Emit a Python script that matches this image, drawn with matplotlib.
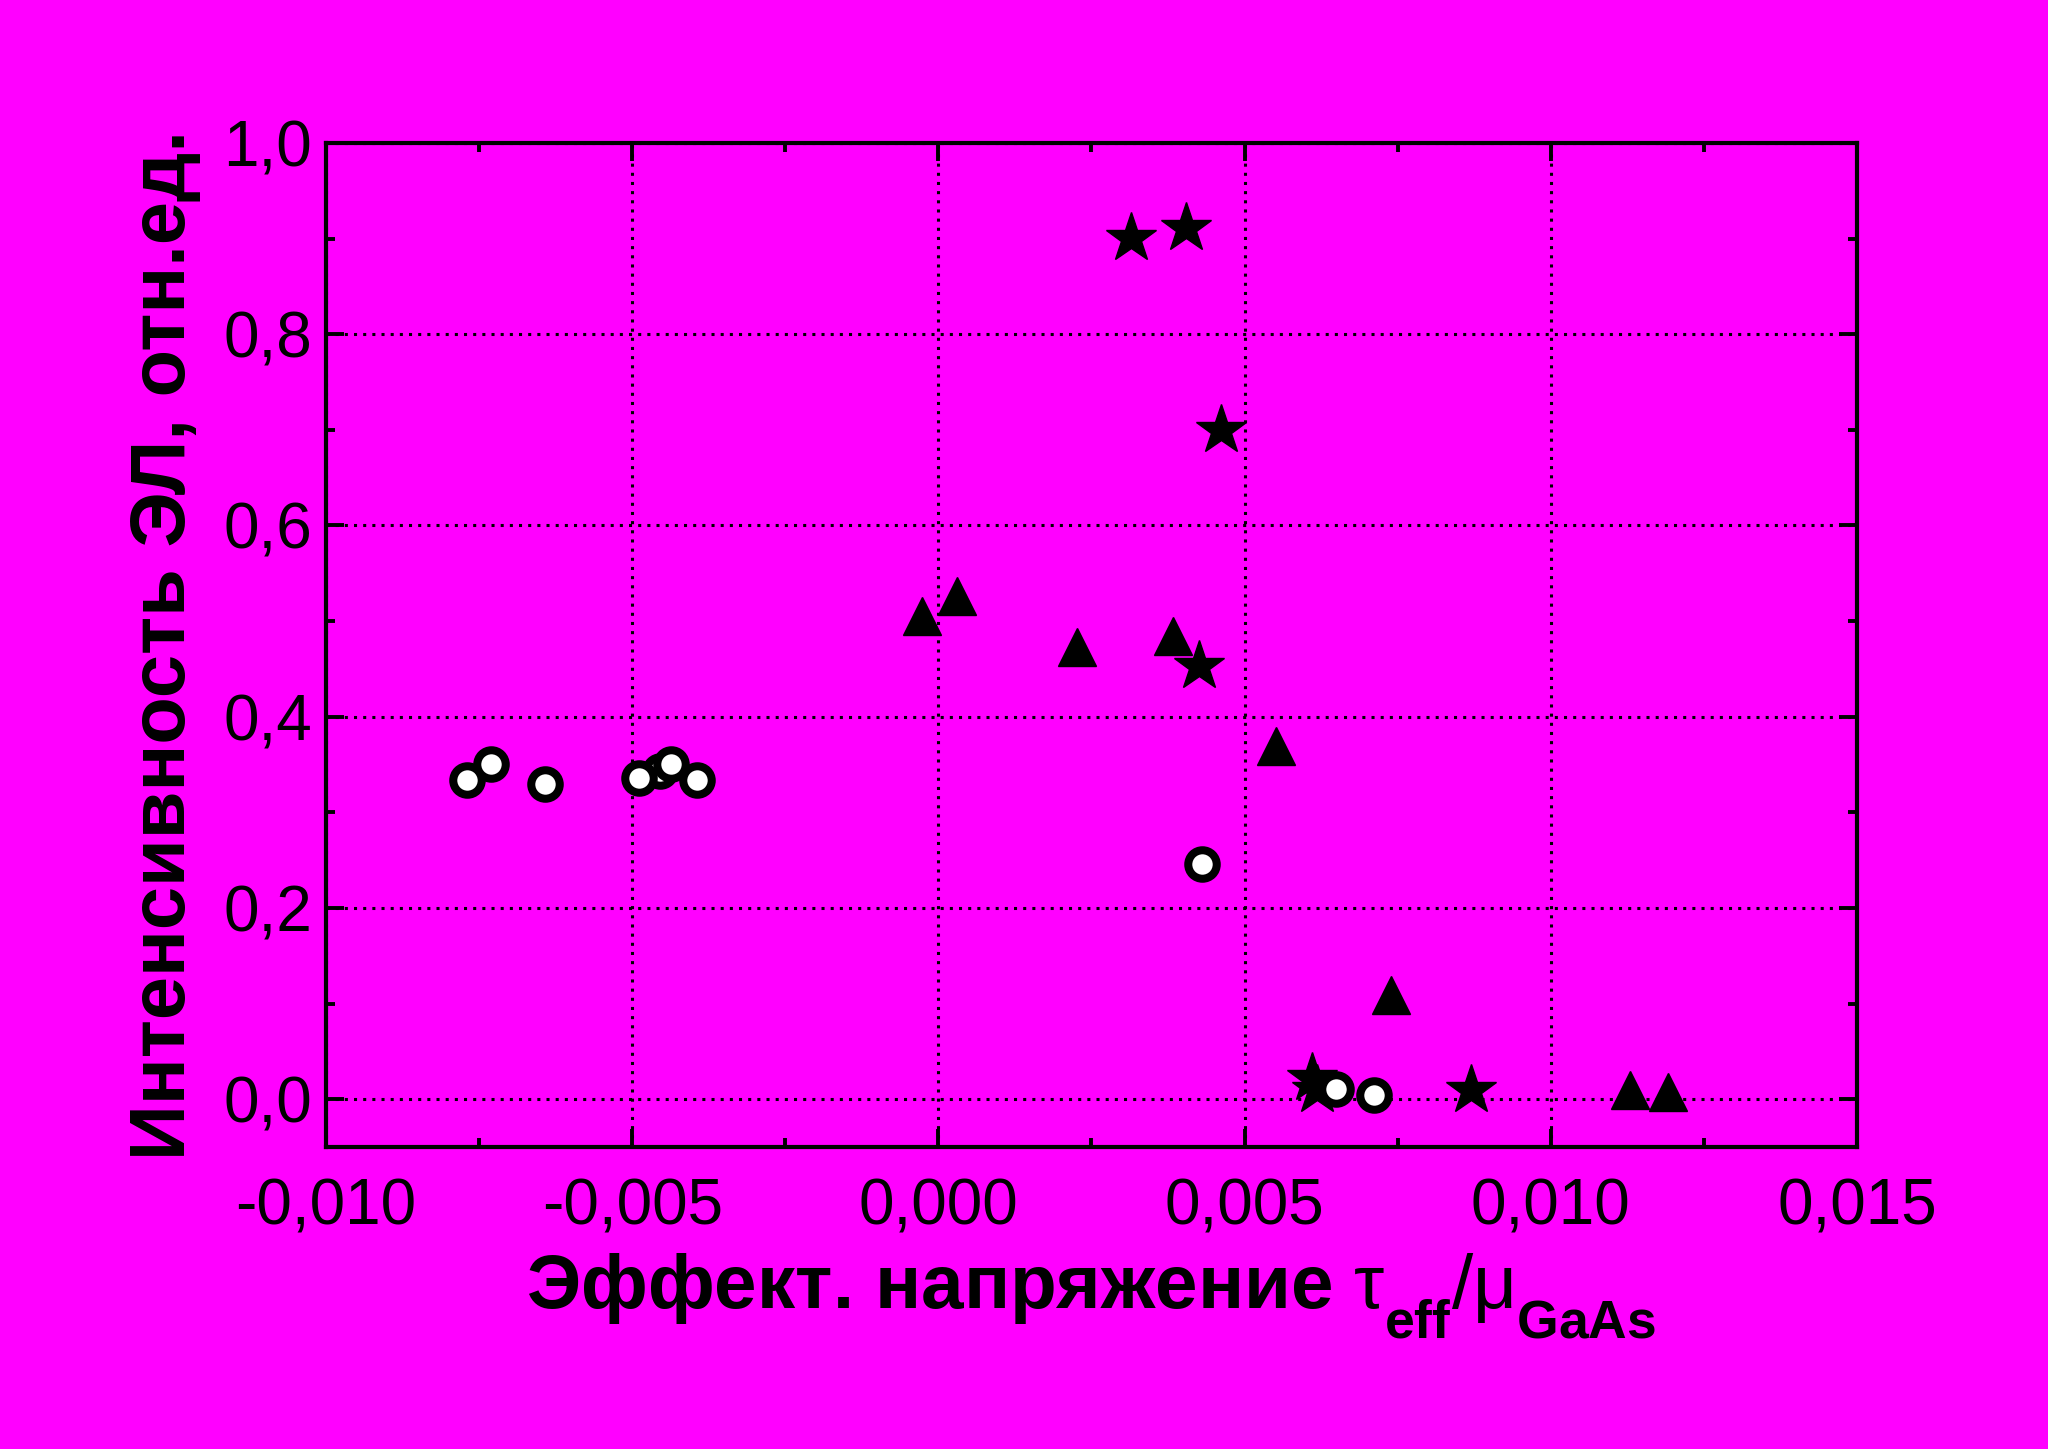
"""
Scatter plot: EL intensity vs effective stress (three sample groups).
"""

import matplotlib
matplotlib.use("Agg")
import matplotlib.pyplot as plt
from matplotlib.ticker import MultipleLocator, FuncFormatter

# Data
tri_x = [-0.00026, 0.00031, 0.00227, 0.00383, 0.00552, 0.00739, 0.01130, 0.01192]
tri_y = [0.505, 0.526, 0.473, 0.484, 0.369, 0.109, 0.010, 0.008]

star_x = [0.00314, 0.00404, 0.00461, 0.00426, 0.00610, 0.00618, 0.00870]
star_y = [0.901, 0.911, 0.700, 0.453, 0.022, 0.010, 0.010]

circ_x = [-0.00455, -0.00770, -0.00731, -0.00642, -0.00489, -0.00436, -0.00395,
          0.00430, 0.00649, 0.00711]
circ_y = [0.343, 0.334, 0.351, 0.330, 0.336, 0.351, 0.334,
          0.246, 0.011, 0.004]

x_label = "Эффект. напряжение $\\tau_{\\mathbf{eff}}/\\mu_{\\mathbf{GaAs}}$"
y_label = "Интенсивность ЭЛ, отн.ед."

BG = "#ff00ff"

plt.rcParams["font.family"] = ["Liberation Sans", "DejaVu Sans"]
plt.rcParams["mathtext.fontset"] = "custom"
plt.rcParams["mathtext.rm"] = "Liberation Sans"
plt.rcParams["mathtext.it"] = "Liberation Sans"
plt.rcParams["mathtext.bf"] = "Liberation Sans:bold"

# push subscripts a bit lower, like the original label
try:
    from matplotlib import _mathtext
    _mathtext.FontConstantsBase.sub1 = 0.75
    _mathtext.FontConstantsBase.subdrop = 0.75
except Exception:
    pass

fig = plt.figure(figsize=(20.48, 14.49), dpi=100, facecolor=BG)
ax = fig.add_axes([0.1592, 0.2084, 0.7475, 0.6929], facecolor=BG)

# Points
ax.plot(tri_x, tri_y, linestyle="none", marker="^", ms=27, color="black", zorder=3)
ax.plot(star_x, star_y, linestyle="none", marker="*", ms=38, color="black", zorder=4)
ax.plot(circ_x, circ_y, linestyle="none", marker="o", ms=20.5,
        markerfacecolor="white", markeredgecolor="black", markeredgewidth=5.8, zorder=5)

# Axes range and ticks
ax.set_xlim(-0.010, 0.015)
ax.set_ylim(-0.05, 1.0)
ax.xaxis.set_major_locator(MultipleLocator(0.005))
ax.xaxis.set_minor_locator(MultipleLocator(0.0025))
ax.yaxis.set_major_locator(MultipleLocator(0.2))
ax.yaxis.set_minor_locator(MultipleLocator(0.1))
ax.xaxis.set_major_formatter(FuncFormatter(lambda v, p: f"{v:.3f}".replace(".", ",").replace("-0,000", "0,000")))
ax.yaxis.set_major_formatter(FuncFormatter(lambda v, p: f"{v:.1f}".replace(".", ",")))

ax.tick_params(which="both", direction="in", top=True, right=True, width=2.8, color="black")
ax.tick_params(which="major", length=13, labelsize=46, pad=10)
ax.tick_params(axis="x", which="major", pad=22)
ax.tick_params(which="minor", length=6.5)

for spine in ax.spines.values():
    spine.set_linewidth(3.0)

# Dotted grid at major ticks
ax.grid(True, which="major", color="black", linestyle=(0, (1, 2)), linewidth=2.2)
ax.set_axisbelow(True)

# Labels
ax.set_xlabel(x_label, fontsize=55, fontweight="bold", labelpad=10)
ax.set_ylabel(y_label, fontsize=56, fontweight="bold", labelpad=16)

plt.savefig("out.png", dpi=100, facecolor=BG)
